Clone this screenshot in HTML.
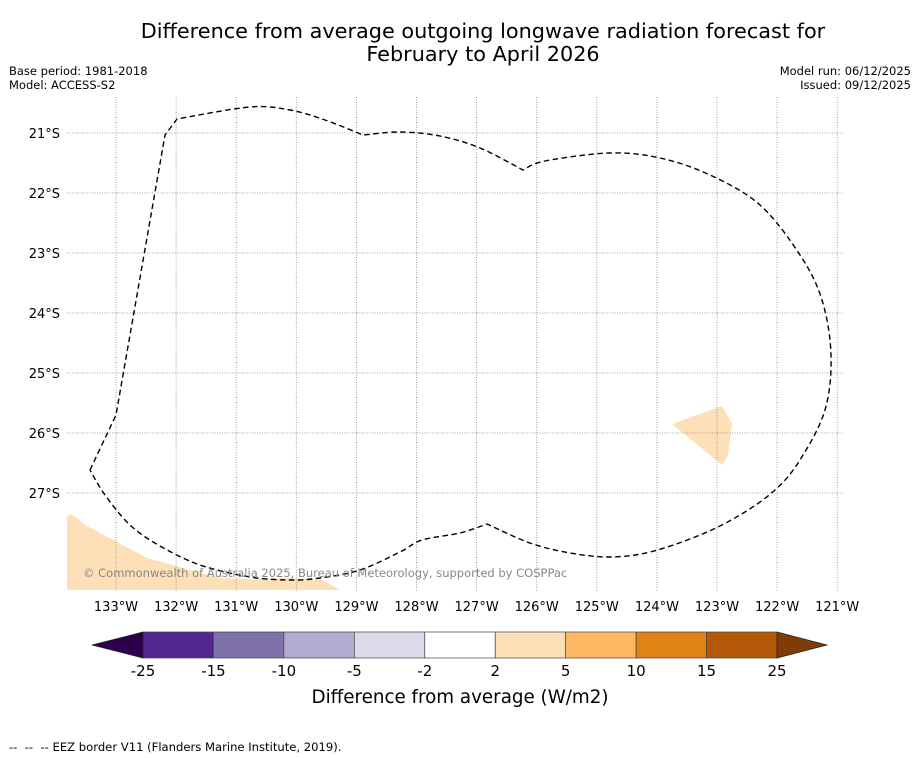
<!DOCTYPE html>
<html><head><meta charset="utf-8"><style>
body{margin:0;background:#fff;font-family:"DejaVu Sans","Liberation Sans",sans-serif}
svg{display:block}
</style></head><body>
<svg width="919" height="758" xmlns="http://www.w3.org/2000/svg" font-family="DejaVu Sans, Liberation Sans, sans-serif">
<rect width="919" height="758" fill="#fff"/>
<text x="483" y="38" font-size="20.8" text-anchor="middle">Difference from average outgoing longwave radiation forecast for</text>
<text x="483" y="61" font-size="20.8" text-anchor="middle">February to April 2026</text>
<text x="9" y="75" font-size="11.5">Base period: 1981-2018</text>
<text x="9" y="89" font-size="11.5">Model: ACCESS-S2</text>
<text x="911" y="75" font-size="11.5" text-anchor="end">Model run: 06/12/2025</text>
<text x="911" y="89" font-size="11.5" text-anchor="end">Issued: 09/12/2025</text>
<g id="map">
<polygon fill="#fde0b7" points="67,590 67,516 71,514 87,526 147,558 220,578 250,579 288,578 322,580 340,590"/>
<polygon fill="#fde0b7" points="672,424 722,406 732,424 728,455 722,465 672,424"/>
<g id="grid" stroke="#888" stroke-width="0.8" stroke-dasharray="1,1.5"></g>
<path id="eez" fill="none" stroke="#000" stroke-width="1.4" stroke-dasharray="5.5,3.5"/>
<text x="83" y="577" font-size="11.5" fill="#888">© Commonwealth of Australia 2025, Bureau of Meteorology, supported by COSPPac</text>
</g>
<g id="cbar"></g>
<text x="460" y="703" font-size="18.3" text-anchor="middle">Difference from average (W/m2)</text>
<text x="9" y="751" font-size="11.6" xml:space="preserve" style="white-space:pre">--  --  -- EEZ border V11 (Flanders Marine Institute, 2019).</text>
</svg>
<script>
const lonTicks=[133,132,131,130,129,128,127,126,125,124,123,122,121];
const latTicks=[21,22,23,24,25,26,27];
const cbarBounds=["-25","-15","-10","-5","-2","2","5","10","15","25"];
const cbarColors=["#54278f","#7f72ab","#b1abd2","#dadaeb","#ffffff","#fde0b7","#fdb863","#e08214","#b35806"];
const cbarLow="#2d004b", cbarHigh="#7f3b08";
const NS="http://www.w3.org/2000/svg";
function mk(t,a,p){const e=document.createElementNS(NS,t);for(const k in a)e.setAttribute(k,a[k]);p.appendChild(e);return e;}
const xLon=l=>116+(133-l)*60.1, yLat=l=>133+(l-21)*60;
const g=document.getElementById('grid'), svg=document.querySelector('svg');
const eezPts=[[90,470],[116,415],[165,135],[177,119],[250,107],[290,110],[325,120],[363,135],[400,132],[440,136],[480,148],[523,170],[545,161],[610,153],[660,158],[710,175],[760,205],[800,255],[822,300],[831,355],[825,410],[800,460],[775,490],[740,515],[700,535],[650,552],[610,557],[570,553],[530,543],[487,524],[460,533],[422,540],[400,552],[360,570],[320,578],[290,580],[250,577],[200,565],[160,546],[130,525],[105,495],[90,470]];
const corners=new Set([0,1,2,3,7,11,29,41]);
let d=`M${eezPts[0][0]},${eezPts[0][1]}`;
for(let i=0;i<eezPts.length-1;i++){
 const p1=eezPts[i],p2=eezPts[i+1];
 const p0=corners.has(i)?p1:eezPts[Math.max(0,i-1)];
 const p3=corners.has(i+1)?p2:eezPts[Math.min(eezPts.length-1,i+2)];
 const c1=[p1[0]+(p2[0]-p0[0])/6,p1[1]+(p2[1]-p0[1])/6];
 const c2=[p2[0]-(p3[0]-p1[0])/6,p2[1]-(p3[1]-p1[1])/6];
 d+=` C${c1[0]},${c1[1]} ${c2[0]},${c2[1]} ${p2[0]},${p2[1]}`;
}
document.getElementById('eez').setAttribute('d',d);
lonTicks.forEach(l=>{const x=xLon(l);
 const ln=mk('line',{x1:x,x2:x,y1:97,y2:591},g);
 
 
 const t=mk('text',{x:x,y:611,'font-size':13,'text-anchor':'middle'},svg);t.textContent=l+'°W';
 
 });
latTicks.forEach(l=>{const y=yLat(l);
 const ln=mk('line',{x1:67,x2:843,y1:y,y2:y},g);
 
 
 const t=mk('text',{x:60,y:y+5,'font-size':13,'text-anchor':'end'},svg);t.textContent=l+'°S';
 
 });
const cb=document.getElementById('cbar');const x0=143,x1=777,y0=632,y1=658,w=(x1-x0)/cbarColors.length;
cbarColors.forEach((c,i)=>{const r=mk('rect',{x:x0+i*w,y:y0,width:w,height:y1-y0,fill:c,stroke:'#444','stroke-width':0.7},cb);
 
 });
const tl=mk('polygon',{points:`92,645 ${x0},${y0} ${x0},${y1}`,fill:cbarLow,stroke:'#222','stroke-width':0.7},cb);


const tr=mk('polygon',{points:`827,645 ${x1},${y0} ${x1},${y1}`,fill:cbarHigh,stroke:'#222','stroke-width':0.7},cb);


cbarBounds.forEach((b,i)=>{const t=mk('text',{x:x0+i*w,y:676,'font-size':15,'text-anchor':'middle'},cb);t.textContent=b;
 
 });
</script>
</body></html>
